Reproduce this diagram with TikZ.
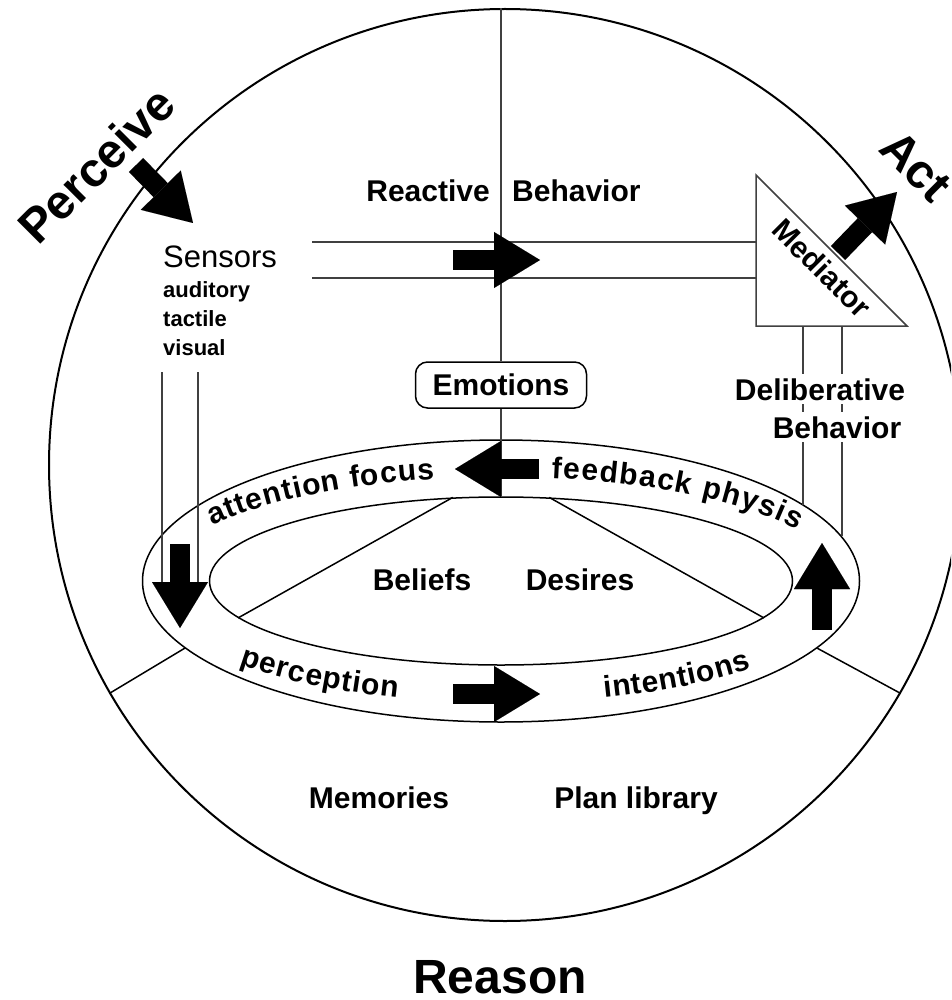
\documentclass[tikz,border=0pt]{standalone}
\usepackage{fontspec}
\setmainfont{Liberation Sans}
\usetikzlibrary{arrows.meta,positioning,calc,shapes.geometric,decorations.text}

\newcommand{\ringfont}{\fontsize{30}{32}\selectfont\bfseries}

\tikzset{
  txt/.style={font=\fontsize{30}{32}\selectfont\bfseries,inner sep=0pt},
  smalltxt/.style={font=\fontsize{22}{24}\selectfont\bfseries,inner sep=0pt},
  bigtxt/.style={font=\fontsize{48}{50}\selectfont\bfseries,inner sep=0pt},
  wire/.style={line width=1.5pt,black!75},
  fatarrow/.style={line width=20pt,-{Triangle[length=46pt,width=56pt,line width=0.01pt]}},
  ringtext/.style={decorate,decoration={text along path,text align=fit to path,text={|\ringfont|#1}}}
}

\begin{document}
\begin{tikzpicture}[x=1pt,y=-1pt]
    \useasboundingbox (0,0) rectangle (951,1000);
    \clip (0,0) rectangle (951,1000);

    % Outer circle and the ring
    \node[draw,circle,line width=2pt,minimum size=912,inner sep=0pt] (world) at (505,465) {};
    \node[draw,ellipse,line width=1.5pt,minimum width=717,minimum height=282,inner sep=0pt] (ring) at (501,581) {};
    \node[draw,ellipse,line width=1.5pt,minimum width=583,minimum height=168,inner sep=0pt] (core) at (501,581) {};

    % Emotions box on the middle line
    \node[draw,txt,fill=white,rounded corners=12pt,minimum width=171,minimum height=46,line width=1.5pt] (emo) at (501,385) {Emotions};
    \draw[wire] (emo.north) -- (emo.north |- world.north);
    \draw[wire] (emo.south) -- (core.north);

    % Mediator triangle
    \coordinate (medTop) at (756,175);
    \coordinate (medBL) at (756,326);
    \coordinate (medBR) at (907,326);
    \draw[wire,line join=miter] (medTop) -- (medBL) -- (medBR) -- cycle;
    \node[txt,rotate=-45] (med) at (822,268) {Mediator};

    % Reactive lines
    \coordinate (reactIn1) at (312,242);
    \coordinate (reactIn2) at (312,278);
    \draw[wire] (reactIn1) -- (reactIn1 -| medTop);
    \draw[wire] (reactIn2) -- (reactIn2 -| medTop);

    % Deliberative lines
    \coordinate (delibOut1) at (803,326);
    \coordinate (delibIn1) at (803,505);
    \coordinate (delibOut2) at (842,326);
    \coordinate (delibIn2) at (842,536);
    \draw[wire] (delibOut1) -- (delibIn1);
    \draw[wire] (delibOut2) -- (delibIn2);

    % Sensor lines
    \coordinate (sensOut1) at (162,372);
    \coordinate (sensIn1) at (162,583);
    \coordinate (sensOut2) at (198,372);
    \coordinate (sensIn2) at (198,583);
    \draw[wire] (sensOut1) -- (sensIn1);
    \draw[wire] (sensOut2) -- (sensIn2);

    % Beliefs / desires split and the bottom split
    \draw[line width=1.5pt] (core.120.5) -- (core.188.4);
    \draw[line width=1.5pt] (core.60) -- (core.352);
    \draw[line width=1.5pt] (ring.192) -- (world.210);
    \draw[line width=1.5pt] (ring.348) -- (world.330);

    % Block arrows
    \coordinate (percA) at (136,165);   \coordinate (percB) at (193,223);
    \coordinate (actA) at (838,253);    \coordinate (actB) at (897,192);
    \coordinate (reactA) at (453,260);  \coordinate (reactB) at (540,260);
    \coordinate (focusA) at (539,469);  \coordinate (focusB) at (455,469);
    \coordinate (sensA) at (180,544);   \coordinate (sensB) at (180,628);
    \coordinate (physA) at (822,630);   \coordinate (physB) at (822,543);
    \coordinate (intA) at (453,694);    \coordinate (intB) at (540,694);
    \draw[fatarrow] (percA) -- (percB);
    \draw[fatarrow] (actA) -- (actB);
    \draw[fatarrow] (reactA) -- (reactB);
    \draw[fatarrow] (focusA) -- (focusB);
    \draw[fatarrow] (sensA) -- (sensB);
    \draw[fatarrow] (physA) -- (physB);
    \draw[fatarrow] (intA) -- (intB);

    % Ring labels
    \path[ringtext={attention focus}] (core.center) ++(211.9:340 and 104) arc[start angle=211.9,end angle=258.7,x radius=340,y radius=104];
    \path[ringtext={feedback physis}] (core.center) ++(278.5:340 and 104) arc[start angle=278.5,end angle=330.7,x radius=340,y radius=104];
    \path[ringtext={perception}] (core.center) ++(136.6:360 and 122) arc[start angle=136.6,end angle=106.7,x radius=360,y radius=122];
    \path[ringtext={intentions}] (core.center) ++(73.3:360 and 122) arc[start angle=73.3,end angle=45.9,x radius=360,y radius=122];

    % Labels
    \node[bigtxt,rotate=45] (perceive) at (96,165) {Perceive};
    \node[bigtxt,rotate=-45] (act) at (916,166) {Act};
    \node[bigtxt,anchor=base] (reason) at (500,993) {Reason};

    \node[inner sep=0pt,font=\fontsize{31}{33}\selectfont,anchor=base west] (sensors) at (163,267) {Sensors};
    \node[smalltxt,anchor=base west] (auditory) at (163,297) {auditory};
    \node[smalltxt,anchor=base west] (tactile) at (163,326) {tactile};
    \node[smalltxt,anchor=base west] (visual) at (163,355) {visual};

    \node[txt,anchor=base east] (reactive) at (490,202) {Reactive};
    \node[txt,anchor=base west] (behavior) at (512,202) {Behavior};

    \node[txt,fill=white,inner sep=4pt,anchor=base] (delib) at (820,400) {Deliberative};
    \node[txt,fill=white,inner sep=4pt,anchor=base] (delibBeh) at (837,438) {Behavior};

    \node[txt,anchor=base] (beliefs) at (422,590) {Beliefs};
    \node[txt,anchor=base] (desires) at (580,590) {Desires};

    \node[txt,anchor=base] (memories) at (379,808) {Memories};
    \node[txt,anchor=base] (plans) at (636,808) {Plan library};

\end{tikzpicture}
\end{document}
